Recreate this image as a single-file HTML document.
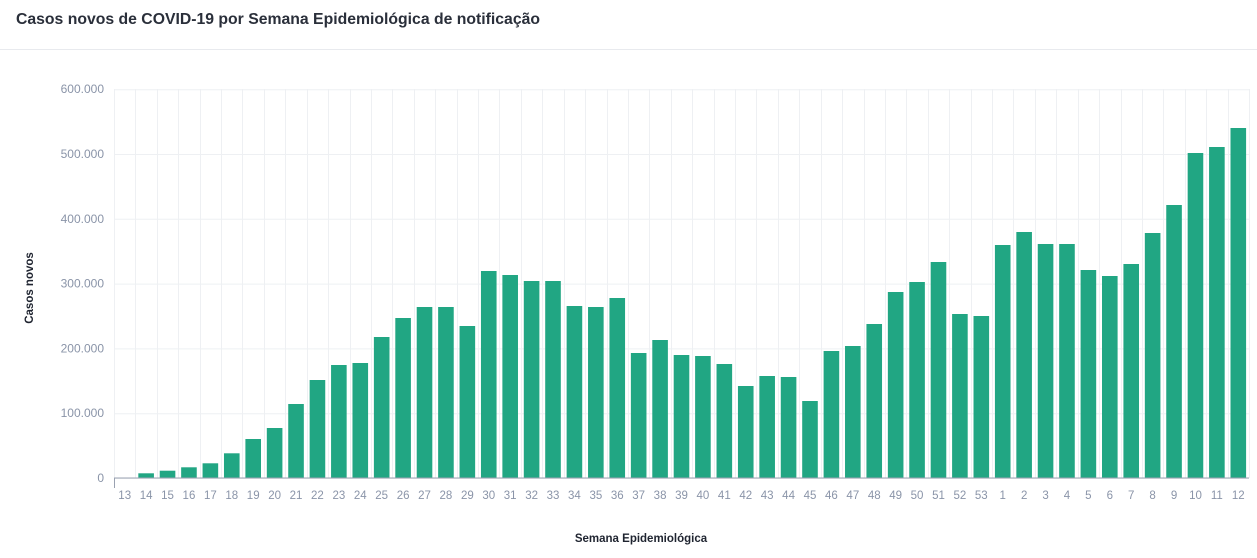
<!DOCTYPE html>
<html><head><meta charset="utf-8"><style>
body{margin:0;background:#fff;width:1257px;height:553px;overflow:hidden;font-family:"Liberation Sans",sans-serif}
</style></head><body>
<svg width="1257" height="553" xmlns="http://www.w3.org/2000/svg" font-family="Liberation Sans, sans-serif">
<text x="16" y="24" font-size="15.8" font-weight="bold" fill="#2a2f3a" textLength="524" lengthAdjust="spacingAndGlyphs">Casos novos de COVID-19 por Semana Epidemiológica de notificação</text>
<line x1="0" y1="49.5" x2="1257" y2="49.5" stroke="#e8eaee"/>
<g id="grid" stroke="#eef0f3" stroke-width="1"></g>
<g id="bars" fill="#21a683"></g>
<line x1="114" y1="478" x2="1249" y2="478" stroke="#9aa2b1"/>
<line x1="114.5" y1="478" x2="114.5" y2="488" stroke="#9aa2b1"/>
<g id="yl" font-size="12" fill="#8a94a8" text-anchor="end"></g>
<g id="xl" font-size="11.5" fill="#8a94a8" text-anchor="middle"></g>
<text transform="translate(33,288) rotate(-90)" text-anchor="middle" font-size="11.5" font-weight="bold" fill="#1f2430">Casos novos</text>
<text x="641" y="542" text-anchor="middle" font-size="11.5" font-weight="bold" fill="#1f2430">Semana Epidemiológica</text>
</svg>
<script>
var ns="http://www.w3.org/2000/svg";
function el(p,t,a,txt){var e=document.createElementNS(ns,t);for(var k in a)e.setAttribute(k,a[k]);if(txt!=null)e.textContent=txt;document.getElementById(p).appendChild(e);}
var labels=[];for(var i=13;i<=53;i++)labels.push(i);for(var i=1;i<=12;i++)labels.push(i);
var tops=[477.6,473.3,470.7,467.3,463.3,453.3,439,428,404,380,365,363,337,318,307,307,326,271,275,281,281,306,307,298,353,340,355,356,364,386,376,377,401,351,346,324,292,282,262,314,316,245,232,244,244,270,276,264,233,205,153,147,128];
var x0=114,bw=1135/53;
for(var k=0;k<=6;k++){var y=478-k*64.8;el("grid","line",{x1:114,x2:1249,y1:y+.5,y2:y+.5});el("yl","text",{x:104,y:y+4},k==0?"0":(k*100)+".000");}
for(var i=0;i<=53;i++){var x=Math.round(x0+i*bw)+.5;el("grid","line",{x1:x,x2:x,y1:89,y2:478});}
for(var i=0;i<53;i++){var c=x0+bw*(i+.5);el("bars","rect",{x:c-7.8,y:tops[i],width:15.6,height:478-tops[i]});el("xl","text",{x:c,y:499},labels[i]);}
</script>
</body></html>
